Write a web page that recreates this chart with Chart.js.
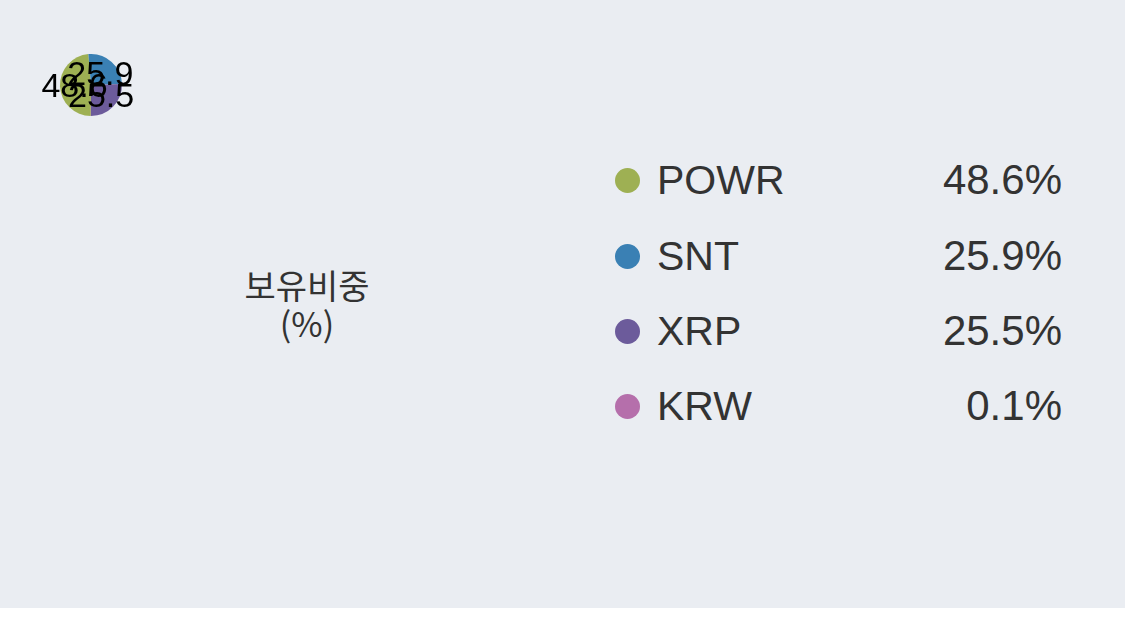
<!DOCTYPE html>
<html>
<head>
<meta charset="utf-8">
<script src="https://cdn.jsdelivr.net/npm/chart.js@4/dist/chart.umd.min.js"></script>
<style>
    html, body { margin: 0; padding: 0; background: #ffffff; }
    #panel {
        position: relative;
        width: 1125px;
        height: 608px;
        background: #eaedf2;
        font-family: "Liberation Sans", Arial, sans-serif;
        color: #333333;
    }
    #holdings-chart { position: absolute; left: 0; top: 0; }
    #center-label {
        position: absolute;
        left: 207px;
        top: 266px;
        width: 200px;
        text-align: center;
        font-family: "Noto Sans CJK KR", "Liberation Sans", sans-serif;
        font-size: 34px;
        line-height: 38px;
        color: #333333;
    }
    #center-label div { height: 38px; }
    #legend { position: absolute; left: 614px; top: 0; }
    .legend-row {
        position: absolute;
        left: 0;
        width: 448px;
        height: 40px;
    }
    .legend-dot {
        position: absolute;
        left: 1px;
        top: 8px;
        width: 25px;
        height: 25px;
        border-radius: 50%;
    }
    .legend-name {
        position: absolute;
        left: 43px;
        top: -4px;
        font-size: 41px;
        line-height: 48px;
    }
    .legend-value {
        position: absolute;
        right: 0;
        top: -4px;
        font-size: 42px;
        line-height: 48px;
    }
</style>
</head>
<body>
<div id="panel">
    <canvas id="holdings-chart" width="182" height="170"></canvas>
    <div id="center-label"><div>보유비중</div><div>(%)</div></div>
    <div id="legend"></div>
</div>
<script>
const coinLabels = ["POWR", "SNT", "XRP", "KRW"];
const coinShares = [48.6, 25.9, 25.5, 0.1];
const coinColors = ["#9eb053", "#3a80b4", "#6c5b9b", "#b56fab"];
const legendRowTops = [160, 236, 311, 386];

// legend on the right
const legendBox = document.getElementById("legend");
coinLabels.forEach(function (name, i) {
    const row = document.createElement("div");
    row.className = "legend-row";
    row.style.top = legendRowTops[i] + "px";
    row.innerHTML =
        '<div class="legend-dot" style="background:' + coinColors[i] + '"></div>' +
        '<div class="legend-name">' + name + "</div>" +
        '<div class="legend-value">' + coinShares[i].toFixed(1) + "%</div>";
    legendBox.appendChild(row);
});

// simple value labels on the slices (big values only)
const sliceLabels = {
    id: "sliceLabels",
    afterDatasetsDraw(chart) {
        const ctx = chart.ctx;
        const meta = chart.getDatasetMeta(0);
        ctx.save();
        ctx.font = "34px 'Liberation Sans', Arial, sans-serif";
        ctx.fillStyle = "#000000";
        ctx.textAlign = "center";
        ctx.textBaseline = "middle";
        meta.data.forEach(function (arc, i) {
            const value = chart.data.datasets[0].data[i];
            if (value < 1) return;
            const pos = arc.tooltipPosition();
            ctx.fillText(value.toFixed(1), pos.x - 1, pos.y + 2);
        });
        ctx.restore();
    },
};

const holdingsContext = document.getElementById("holdings-chart");

const holdingsData = {
    labels: coinLabels,
    datasets: [
        {
            label: "보유비중",
            data: coinShares,
            backgroundColor: coinColors,
            borderWidth: 0,
        },
    ],
};

const holdingsConfig = {
    type: "pie",
    data: holdingsData,
    options: {
        responsive: false,
        animation: false,
        rotation: 180.4,
        layout: {
            padding: { left: 60, right: 60, top: 54, bottom: 54 },
        },
        plugins: {
            legend: { display: false },
            tooltip: { enabled: false },
        },
    },
    plugins: [sliceLabels],
};

const holdingsChart = new Chart(holdingsContext, holdingsConfig);
</script>
</body>
</html>
